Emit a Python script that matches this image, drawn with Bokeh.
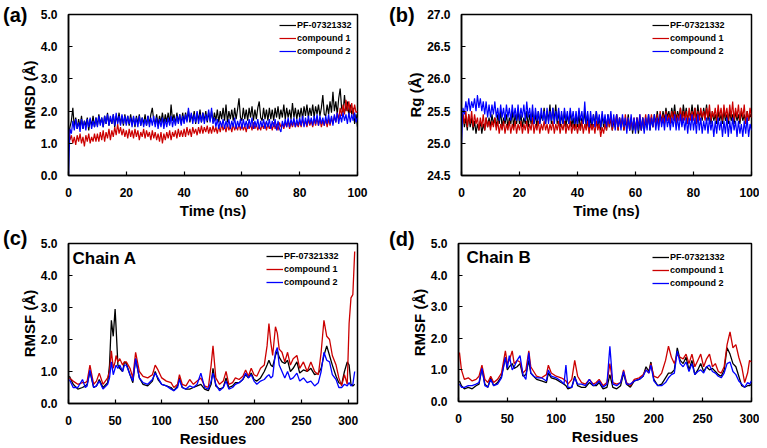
from bokeh.plotting import figure
from bokeh.layouts import column, row
from bokeh.models import (Range1d, FixedTicker, PrintfTickFormatter, Legend,
                          LegendItem, Label, Div)
from bokeh.embed import file_html
from bokeh.resources import INLINE

# ---------------- data ----------------
series_names = ["PF-07321332", "compound 1", "compound 2"]
series_colors = ["#000000", "#cc0000", "#0000ff"]

# sampling every 0.5 ns, 0 .. 100 ns
time_ns = [i / 2 for i in range(201)]

rmsd_pf = [1.2, 1.5, 1.7, 2.1, 1.5, 1.8, 1.45, 1.75, 1.5, 1.85, 1.45, 1.7, 1.55, 1.8, 1.4, 1.75, 1.55, 1.85, 1.5, 1.8,
           1.55, 1.9, 1.6, 1.8, 1.5, 1.85, 1.6, 1.95, 1.55, 1.8, 1.6, 1.9, 1.5, 1.85, 1.65, 1.95, 1.6, 1.85, 1.55, 1.9,
           1.6, 1.85, 1.55, 1.9, 1.6, 1.8, 1.5, 1.85, 1.6, 1.9, 1.55, 1.8, 1.6, 1.9, 1.55, 1.85, 1.6, 1.9, 2.1, 1.7,
           1.6, 1.9, 1.55, 1.85, 1.65, 1.95, 1.6, 1.9, 1.65, 1.95, 1.6, 2.2, 1.7, 1.9, 1.6, 1.95, 1.65, 1.9, 1.6, 1.95,
           1.65, 1.95, 1.7, 2.0, 1.65, 1.9, 1.7, 2.0, 1.6, 1.95, 1.7, 2.05, 1.65, 1.95, 1.7, 2.0, 1.65, 1.95, 1.7, 2.0,
           1.65, 1.95, 1.7, 2.05, 1.65, 2.0, 1.75, 2.1, 1.7, 2.2, 1.65, 2.0, 1.75, 2.05, 1.7, 2.1, 1.75, 2.05, 2.4, 1.8,
           1.7, 2.1, 1.75, 2.05, 1.7, 2.1, 1.8, 2.15, 1.7, 2.05, 1.75, 2.1, 2.3, 1.8, 1.7, 2.1, 1.75, 2.05, 1.7, 2.1,
           1.75, 2.05, 1.7, 2.1, 1.8, 2.15, 1.75, 2.05, 1.8, 2.2, 1.75, 2.1, 1.8, 2.05, 1.75, 2.25, 1.8, 2.1, 1.75, 2.05,
           1.8, 2.1, 1.75, 2.15, 1.85, 2.2, 1.8, 2.1, 1.85, 2.2, 1.8, 2.15, 1.9, 2.2, 1.85, 2.1, 2.5, 1.9, 1.85, 2.2,
           1.9, 2.3, 1.95, 2.6, 2.0, 2.3, 1.9, 2.4, 2.7, 2.1, 1.95, 2.5, 2.0, 2.3, 1.85, 2.2, 1.9, 2.1, 1.6, 1.9,
           1.5]
rmsd_c1 = [1.45, 1.1, 1.25, 1.0, 1.2, 0.95, 1.25, 1.05, 1.3, 1.0, 1.2, 0.9, 1.25, 1.05, 1.3, 1.0, 1.2, 1.05, 1.3, 1.05,
           1.3, 1.05, 1.35, 1.1, 1.4, 1.05, 1.35, 1.15, 1.45, 1.1, 1.4, 1.2, 1.5, 1.25, 1.6, 1.3, 1.5, 1.25, 1.45, 1.2,
           1.4, 1.15, 1.45, 1.2, 1.4, 1.15, 1.45, 1.2, 1.4, 1.1, 1.35, 1.2, 1.45, 1.15, 1.4, 1.2, 1.35, 1.1, 1.4, 1.15,
           1.35, 1.1, 1.3, 1.05, 1.35, 1.0, 1.3, 1.1, 1.35, 1.15, 1.4, 1.1, 1.35, 1.2, 1.4, 1.15, 1.45, 1.2, 1.4, 1.2,
           1.45, 1.2, 1.5, 1.25, 1.45, 1.2, 1.5, 1.3, 1.45, 1.25, 1.5, 1.3, 1.55, 1.3, 1.5, 1.35, 1.55, 1.3, 1.5, 1.3,
           1.55, 1.35, 1.5, 1.3, 1.55, 1.35, 1.6, 1.4, 1.55, 1.35, 1.6, 1.4, 1.55, 1.35, 1.6, 1.4, 1.55, 1.4, 1.6, 1.4,
           1.6, 1.4, 1.55, 1.35, 1.6, 1.45, 1.6, 1.4, 1.65, 1.45, 1.6, 1.4, 1.55, 1.4, 1.6, 1.45, 1.65, 1.4, 1.6, 1.45,
           1.6, 1.4, 1.65, 1.45, 1.6, 1.4, 1.65, 1.5, 1.6, 1.45, 1.65, 1.5, 1.7, 1.45, 1.65, 1.5, 1.7, 1.5, 1.65, 1.5,
           1.7, 1.5, 1.75, 1.55, 1.7, 1.5, 1.75, 1.55, 1.7, 1.5, 1.75, 1.55, 1.8, 1.55, 1.75, 1.5, 1.7, 1.55, 1.75, 1.5,
           1.75, 1.55, 1.8, 1.6, 1.85, 1.65, 1.95, 1.75, 2.1, 1.85, 2.2, 1.9, 2.35, 2.0, 2.3, 1.95, 2.25, 1.9, 2.2, 1.95,
           2.0]
rmsd_c2 = [0.0, 1.45, 1.3, 1.7, 1.4, 1.75, 1.45, 1.65, 1.35, 1.75, 1.45, 1.7, 1.4, 1.75, 1.5, 1.8, 1.45, 1.7, 1.5, 1.8,
           1.5, 1.85, 1.55, 1.8, 1.5, 1.85, 1.6, 1.9, 1.55, 1.85, 1.6, 1.9, 1.55, 1.95, 1.6, 1.85, 1.55, 1.9, 1.6, 1.85,
           1.55, 1.85, 1.6, 1.8, 1.5, 1.85, 1.55, 1.8, 1.5, 1.85, 1.55, 1.8, 1.5, 1.75, 1.55, 1.85, 1.5, 1.8, 1.55, 1.85,
           1.5, 1.8, 1.45, 1.75, 1.5, 1.8, 1.45, 1.75, 1.5, 1.8, 1.55, 1.85, 1.5, 1.8, 1.55, 1.85, 1.6, 1.9, 1.55, 1.85,
           1.6, 1.9, 1.65, 2.1, 1.7, 1.95, 1.6, 1.9, 1.65, 2.0, 1.6, 1.9, 1.65, 1.95, 1.6, 1.9, 1.7, 2.05, 1.65, 2.1,
           1.6, 1.8, 1.5, 1.75, 1.45, 1.7, 1.5, 1.75, 1.45, 1.7, 1.5, 1.75, 1.45, 1.7, 1.5, 1.8, 1.45, 1.7, 1.5, 1.75,
           1.45, 1.75, 1.5, 1.7, 1.45, 1.75, 1.5, 1.8, 1.45, 1.7, 1.5, 1.75, 1.45, 1.7, 1.5, 1.75, 1.45, 1.7, 1.5, 1.75,
           1.45, 1.7, 1.5, 1.75, 1.4, 1.7, 1.45, 1.35, 1.7, 1.5, 1.75, 1.5, 1.8, 1.5, 1.75, 1.55, 1.8, 1.5, 1.75, 1.55,
           1.8, 1.55, 1.85, 1.5, 1.8, 1.55, 1.85, 1.6, 1.8, 1.55, 1.85, 1.6, 1.9, 1.55, 1.85, 1.6, 1.8, 1.55, 1.85, 1.6,
           1.9, 1.6, 1.85, 1.55, 1.9, 1.65, 1.95, 1.6, 1.9, 1.65, 1.95, 1.7, 1.9, 1.6, 1.95, 1.65, 1.9, 1.7, 1.95, 1.65,
           1.8]

rg_pf = [25.3, 25.45, 25.25, 25.4, 25.2, 25.45, 25.25, 25.4, 25.2, 25.35, 25.15, 25.3, 25.2, 25.35, 25.15, 25.3, 25.2, 25.4, 25.25, 25.4,
         25.25, 25.45, 25.3, 25.4, 25.25, 25.45, 25.3, 25.5, 25.25, 25.4, 25.3, 25.45, 25.25, 25.4, 25.3, 25.5, 25.25, 25.45, 25.3, 25.5,
         25.3, 25.45, 25.25, 25.4, 25.3, 25.5, 25.25, 25.45, 25.3, 25.5, 25.3, 25.45, 25.25, 25.5, 25.3, 25.45, 25.35, 25.55, 25.3, 25.5,
         25.35, 25.6, 25.3, 25.55, 25.35, 25.6, 25.3, 25.5, 25.25, 25.45, 25.3, 25.5, 25.25, 25.45, 25.3, 25.5, 25.25, 25.4, 25.2, 25.45,
         25.25, 25.45, 25.2, 25.4, 25.3, 25.5, 25.25, 25.45, 25.2, 25.4, 25.25, 25.45, 25.3, 25.5, 25.25, 25.4, 25.2, 25.45, 25.25, 25.4,
         25.2, 25.45, 25.25, 25.4, 25.2, 25.35, 25.25, 25.45, 25.2, 25.4, 25.25, 25.4, 25.2, 25.35, 25.25, 25.45, 25.2, 25.4, 25.15, 25.35,
         25.2, 25.4, 25.15, 25.35, 25.2, 25.4, 25.2, 25.35, 25.25, 25.45, 25.2, 25.4, 25.25, 25.45, 25.3, 25.5, 25.3, 25.45, 25.35, 25.5,
         25.35, 25.55, 25.4, 25.5, 25.35, 25.55, 25.4, 25.6, 25.35, 25.5, 25.4, 25.55, 25.35, 25.6, 25.4, 25.55, 25.35, 25.5, 25.4, 25.6,
         25.4, 25.55, 25.35, 25.6, 25.4, 25.5, 25.35, 25.55, 25.4, 25.6, 25.35, 25.5, 25.3, 25.5, 25.35, 25.45, 25.3, 25.5, 25.35, 25.45,
         25.3, 25.5, 25.35, 25.45, 25.3, 25.5, 25.35, 25.45, 25.3, 25.5, 25.35, 25.45, 25.3, 25.5, 25.35, 25.45, 25.3, 25.5, 25.35, 25.45,
         25.4]
rg_c1 = [25.35, 25.45, 25.3, 25.5, 25.25, 25.45, 25.3, 25.5, 25.25, 25.45, 25.3, 25.4, 25.2, 25.4, 25.25, 25.45, 25.2, 25.4, 25.25, 25.35,
         25.2, 25.35, 25.25, 25.4, 25.2, 25.35, 25.15, 25.3, 25.2, 25.35, 25.15, 25.3, 25.2, 25.35, 25.15, 25.3, 25.2, 25.35, 25.15, 25.3,
         25.2, 25.35, 25.15, 25.3, 25.2, 25.35, 25.15, 25.3, 25.2, 25.4, 25.15, 25.3, 25.2, 25.35, 25.15, 25.3, 25.2, 25.35, 25.2, 25.3,
         25.15, 25.3, 25.2, 25.35, 25.15, 25.3, 25.2, 25.35, 25.15, 25.3, 25.2, 25.35, 25.15, 25.3, 25.2, 25.35, 25.15, 25.3, 25.2, 25.3,
         25.15, 25.3, 25.2, 25.35, 25.15, 25.3, 25.2, 25.35, 25.15, 25.3, 25.2, 25.3, 25.15, 25.35, 25.2, 25.3, 25.1, 25.25, 25.15, 25.3,
         25.2, 25.4, 25.25, 25.45, 25.2, 25.4, 25.25, 25.45, 25.2, 25.4, 25.25, 25.4, 25.2, 25.45, 25.25, 25.4, 25.2, 25.35, 25.25, 25.4,
         25.2, 25.4, 25.25, 25.45, 25.2, 25.4, 25.25, 25.45, 25.25, 25.4, 25.3, 25.45, 25.25, 25.4, 25.3, 25.45, 25.25, 25.5, 25.3, 25.45,
         25.3, 25.5, 25.35, 25.45, 25.3, 25.5, 25.35, 25.5, 25.3, 25.45, 25.35, 25.55, 25.3, 25.5, 25.35, 25.5, 25.3, 25.55, 25.35, 25.5,
         25.35, 25.55, 25.3, 25.5, 25.35, 25.55, 25.4, 25.5, 25.35, 25.55, 25.4, 25.6, 25.35, 25.5, 25.4, 25.55, 25.35, 25.6, 25.4, 25.55,
         25.35, 25.6, 25.4, 25.55, 25.35, 25.6, 25.4, 25.65, 25.35, 25.55, 25.4, 25.6, 25.35, 25.55, 25.4, 25.6, 25.3, 25.5, 25.35, 25.55,
         25.4]
rg_c2 = [25.0, 25.55, 25.45, 25.65, 25.5, 25.7, 25.5, 25.65, 25.55, 25.7, 25.5, 25.75, 25.55, 25.7, 25.5, 25.65, 25.45, 25.65, 25.4, 25.6,
         25.4, 25.6, 25.45, 25.65, 25.4, 25.55, 25.35, 25.6, 25.4, 25.55, 25.35, 25.6, 25.4, 25.55, 25.35, 25.6, 25.4, 25.55, 25.35, 25.6,
         25.35, 25.55, 25.4, 25.6, 25.35, 25.65, 25.4, 25.55, 25.35, 25.6, 25.3, 25.55, 25.35, 25.5, 25.3, 25.55, 25.35, 25.5, 25.3, 25.55,
         25.3, 25.5, 25.35, 25.55, 25.3, 25.5, 25.35, 25.55, 25.3, 25.5, 25.3, 25.55, 25.35, 25.5, 25.3, 25.55, 25.35, 25.5, 25.3, 25.5,
         25.3, 25.55, 25.35, 25.5, 25.3, 25.65, 25.3, 25.5, 25.25, 25.5, 25.3, 25.45, 25.25, 25.5, 25.3, 25.45, 25.25, 25.5, 25.3, 25.45,
         25.25, 25.45, 25.3, 25.5, 25.25, 25.45, 25.2, 25.45, 25.25, 25.4, 25.2, 25.45, 25.25, 25.4, 25.15, 25.4, 25.2, 25.45, 25.2, 25.4,
         25.15, 25.4, 25.2, 25.45, 25.2, 25.4, 25.15, 25.4, 25.2, 25.45, 25.2, 25.4, 25.25, 25.45, 25.2, 25.4, 25.2, 25.45, 25.25, 25.4,
         25.2, 25.45, 25.25, 25.4, 25.2, 25.4, 25.25, 25.45, 25.2, 25.4, 25.2, 25.45, 25.25, 25.4, 25.2, 25.4, 25.15, 25.4, 25.2, 25.45,
         25.2, 25.4, 25.15, 25.45, 25.2, 25.4, 25.15, 25.35, 25.2, 25.4, 25.15, 25.4, 25.2, 25.35, 25.1, 25.35, 25.15, 25.4, 25.2, 25.35,
         25.1, 25.35, 25.15, 25.4, 25.1, 25.35, 25.15, 25.4, 25.2, 25.35, 25.1, 25.35, 25.15, 25.3, 25.1, 25.35, 25.15, 25.4, 25.1, 25.3,
         25.2]

res_a = [1, 5, 10, 15, 18, 20, 23, 27, 30, 33,
         37, 42, 44, 46, 48, 50, 51, 53, 55, 58,
         60, 62, 66, 69, 72, 76, 80, 85, 90, 93,
         96, 100, 105, 110, 113, 117, 119, 122, 126, 130,
         134, 138, 142, 146, 150, 153, 155, 158, 162, 166,
         169, 172, 176, 179, 183, 187, 190, 193, 196, 199,
         202, 206, 210, 213, 215, 217, 219, 222, 224, 226,
         229, 232, 235, 238, 241, 245, 248, 252, 256, 260,
         264, 268, 271, 274, 277, 280, 283, 287, 290, 293,
         296, 299, 301, 303, 305, 307]
rmsf_a_pf = [0.85, 0.6, 0.45, 0.5, 0.55, 0.6, 1.0, 0.5, 0.55, 0.75,
             0.5, 0.65, 1.2, 2.6, 2.1, 2.95, 2.4, 1.2, 1.1, 1.0,
             1.3, 1.25, 0.9, 0.65, 1.4, 0.8, 0.6, 0.55, 0.7, 1.0,
             0.75, 0.6, 0.55, 0.5, 0.4, 0.55, 0.8, 0.5, 0.45, 0.45,
             0.5, 0.55, 0.6, 0.45, 0.4, 0.6, 1.1, 0.55, 0.45, 0.5,
             0.8, 0.5, 0.55, 0.65, 0.65, 0.75, 0.9, 0.8, 0.95, 0.75,
             0.7, 0.8, 1.0, 1.2, 1.35, 1.2, 1.15, 1.5, 1.65, 1.45,
             1.3, 1.25, 1.35, 1.0, 1.1, 1.3, 0.95, 1.05, 1.0, 1.1,
             0.9, 0.95, 1.1, 1.5, 1.8, 1.5, 1.2, 0.85, 0.65, 0.6,
             1.0, 1.3, 1.2, 0.6, 0.55, 0.6]
rmsf_a_c1 = [0.8, 0.7, 0.6, 0.65, 0.65, 0.7, 1.2, 0.6, 0.7, 0.95,
             0.6, 0.8, 1.0, 1.65, 1.1, 1.3, 1.5, 1.3, 1.4, 1.2,
             1.3, 1.3, 1.1, 0.8, 1.6, 1.0, 0.85, 0.8, 0.9, 1.2,
             1.05, 0.8, 0.7, 0.65, 0.5, 0.6, 0.9, 0.6, 0.55, 0.75,
             0.6, 0.7, 0.8, 0.55, 0.5, 1.2, 1.8, 0.8, 0.6, 0.7,
             1.0, 0.6, 0.65, 0.8, 0.75, 0.85, 1.05, 0.85, 1.1, 0.9,
             0.85, 1.1, 1.2, 1.8, 2.5, 1.9, 1.5, 2.4, 2.2, 1.7,
             1.6, 1.3, 1.6, 1.2, 1.4, 1.5, 1.1, 1.3, 1.0, 1.3,
             1.0, 0.9, 1.6, 2.6, 2.1, 2.0, 1.5, 1.2, 0.8, 0.55,
             0.9, 0.6, 2.5, 3.3, 3.4, 4.75]
rmsf_a_c2 = [0.75, 0.5, 0.5, 0.75, 0.5, 0.55, 1.05, 0.5, 0.55, 0.7,
             0.45, 0.6, 0.8, 1.3, 0.9, 1.1, 1.2, 1.1, 1.2, 1.0,
             1.2, 1.2, 0.9, 0.7, 1.4, 0.8, 0.65, 0.6, 0.75, 0.95,
             0.8, 0.6, 0.55, 0.45, 0.4, 0.5, 0.75, 0.5, 0.45, 0.55,
             0.5, 0.6, 0.95, 0.5, 0.45, 0.7, 0.95, 0.6, 0.4, 0.5,
             0.7, 0.45, 0.5, 0.6, 0.65, 0.75, 0.95, 0.8, 0.9, 0.7,
             0.6, 0.7, 0.75, 0.85, 0.9, 0.8, 0.85, 1.6, 1.75, 1.2,
             1.0, 0.8, 1.0, 0.75, 0.8, 0.95, 0.7, 0.8, 0.65, 0.7,
             0.55, 0.65, 1.0, 1.6, 1.35, 1.3, 0.9, 0.75, 0.5, 0.5,
             0.6, 0.55, 0.65, 0.55, 0.6, 1.0]

res_b = [1, 3, 6, 10, 14, 18, 21, 24, 27, 30,
         33, 36, 40, 44, 48, 50, 52, 55, 57, 60,
         63, 66, 69, 72, 74, 77, 80, 85, 90, 92,
         95, 100, 105, 108, 110, 112, 116, 119, 122, 126,
         130, 134, 138, 141, 144, 148, 152, 155, 158, 162,
         166, 169, 172, 176, 180, 185, 189, 192, 195, 197,
         200, 204, 208, 212, 215, 218, 221, 224, 227, 230,
         233, 236, 239, 242, 245, 248, 251, 254, 257, 260,
         263, 266, 269, 272, 275, 278, 281, 284, 287, 290,
         293, 296, 298, 300]
rmsf_b_pf = [0.65, 0.5, 0.4, 0.45, 0.4, 0.5, 0.55, 1.05, 0.55, 0.45,
             0.75, 0.5, 0.6, 0.8, 1.4, 1.0, 1.1, 1.2, 1.05, 1.1,
             1.2, 0.8, 0.85, 1.3, 0.9, 0.8, 0.7, 0.65, 0.6, 0.9,
             0.75, 0.7, 0.6, 0.55, 0.5, 0.4, 0.45, 0.8, 0.5, 0.45,
             0.45, 0.6, 0.5, 0.5, 0.6, 0.4, 0.45, 0.85, 0.45, 0.4,
             0.5, 0.9, 0.55, 0.45, 0.65, 0.7, 0.8, 1.1, 0.95, 1.25,
             0.7, 0.5, 0.55, 0.75, 0.9, 0.9, 1.0, 1.7, 1.3, 1.2,
             1.4, 1.0, 1.3, 0.85, 1.0, 1.2, 0.95, 1.1, 1.0, 1.05,
             0.95, 0.85, 0.8, 1.0, 1.7, 1.5, 1.2, 1.1, 0.8, 0.5,
             0.45, 0.5, 0.5, 0.55]
rmsf_b_c1 = [1.55, 1.0, 0.7, 0.75, 0.65, 0.7, 0.8, 1.15, 0.7, 0.6,
             0.8, 0.6, 0.7, 0.9, 1.6, 1.2, 1.3, 1.6, 1.2, 1.3,
             1.25, 0.9, 1.0, 1.6, 1.1, 0.95, 0.8, 0.75, 0.85, 1.15,
             0.9, 0.8, 0.75, 0.7, 0.65, 0.55, 0.7, 1.3, 0.8, 0.6,
             0.55, 0.7, 0.55, 0.6, 0.7, 0.5, 0.6, 1.2, 0.6, 0.55,
             0.6, 1.0, 0.6, 0.5, 0.7, 0.75, 0.85, 1.0, 0.9, 1.2,
             0.8, 0.75, 0.9, 1.3, 1.75, 1.4, 1.2, 1.5, 1.4, 1.35,
             1.5, 1.2, 1.5, 1.1, 1.3, 1.5, 1.1, 1.35, 1.5, 1.1,
             1.2, 0.95, 0.9, 1.1, 1.8, 2.2, 1.7, 1.8, 1.4, 1.1,
             0.6, 0.9, 1.3, 1.25]
rmsf_b_c2 = [0.55, 0.45, 0.45, 0.5, 0.5, 0.55, 0.6, 1.05, 0.5, 0.45,
             0.7, 0.5, 0.55, 0.75, 1.4, 1.05, 1.45, 1.0, 1.1, 1.3,
             1.45, 0.85, 0.7, 1.55, 0.9, 0.8, 0.75, 0.75, 0.65, 1.0,
             0.8, 0.75, 0.65, 0.55, 1.15, 0.45, 0.45, 0.75, 0.55, 0.55,
             0.5, 0.7, 0.5, 0.55, 0.65, 0.45, 0.55, 1.75, 0.55, 0.5,
             0.6, 0.95, 0.55, 0.55, 0.65, 0.7, 0.8, 1.0, 0.9, 1.15,
             0.65, 0.5, 0.5, 0.6, 0.75, 0.85, 0.9, 1.6, 1.2, 1.1,
             1.25, 0.95, 1.2, 0.85, 0.95, 1.0, 0.9, 1.1, 1.15, 0.95,
             0.9, 0.8, 0.75, 0.9, 1.2, 1.25, 0.95, 0.85, 0.65, 0.55,
             0.45, 0.6, 0.55, 0.65]

rmsd_ticks = [0, 1, 2, 3, 4, 5]
rg_ticks = [24.5, 25.0, 25.5, 26.0, 26.5, 27.0]
time_ticks = [0, 20, 40, 60, 80, 100]
res_ticks = [0, 50, 100, 150, 200, 250, 300]
panel_tags = ["(a)", "(b)", "(c)", "(d)"]

FONT = "Liberation Sans"


def make_panel(fw, fh, bl, br, bt, bb, xr, yr, xt, yt, xlabel, ylabel):
    p = figure(frame_width=fw, frame_height=fh, min_border_left=bl,
               min_border_right=br, min_border_top=bt, min_border_bottom=bb,
               x_range=Range1d(*xr), y_range=Range1d(*yr),
               output_backend="svg", toolbar_location=None)
    p.grid.visible = False
    p.outline_line_color = "black"
    p.outline_line_width = 1.5
    p.outline_line_alpha = 1
    p.background_fill_color = "white"
    p.border_fill_color = "white"
    for ax in (p.xaxis[0], p.yaxis[0]):
        ax.axis_line_color = "black"
        ax.axis_line_width = 1.5
        ax.major_tick_in = 4
        ax.major_tick_out = 0
        ax.major_tick_line_width = 1.2
        ax.minor_tick_line_color = None
        ax.major_label_text_font = FONT
        ax.major_label_text_font_style = "bold"
        ax.major_label_text_font_size = "12px"
        ax.major_label_text_color = "black"
        ax.axis_label_text_font = FONT
        ax.axis_label_text_font_style = "bold"
        ax.axis_label_text_font_size = "15px"
        ax.axis_label_text_color = "black"
    p.xaxis[0].ticker = FixedTicker(ticks=xt)
    p.yaxis[0].ticker = FixedTicker(ticks=yt)
    p.yaxis[0].formatter = PrintfTickFormatter(format="%.1f")
    p.xaxis[0].major_label_standoff = 12
    p.yaxis[0].major_label_standoff = 11
    p.xaxis[0].axis_label_standoff = 2
    p.yaxis[0].axis_label_standoff = 0
    p.xaxis[0].axis_label = xlabel
    p.yaxis[0].axis_label = ylabel
    return p


def add_lines(p, x, ys, lw, loc):
    items = []
    for name, color, y in zip(series_names, series_colors, ys):
        r = p.line(x, y, line_color=color, line_width=lw)
        items.append(LegendItem(label=name, renderers=[r]))
    leg = Legend(items=items, location=loc, border_line_alpha=0,
                 background_fill_alpha=0, padding=5, margin=0, spacing=3,
                 glyph_width=17, glyph_height=10, label_height=10,
                 label_standoff=1, label_text_font=FONT,
                 label_text_font_style="bold", label_text_font_size="9px",
                 label_text_color="black")
    p.add_layout(leg)
    return leg


def add_text(p, x, y, txt, size):
    p.add_layout(Label(x=x, y=y, text=txt, text_font=FONT,
                       text_font_style="bold", text_font_size=size,
                       text_color="black", text_align="left",
                       text_baseline="middle"))


def make_tag(txt, left, top):
    # panel letter, positioned over the page's top-left region of each panel
    return Div(text=txt, width=34, height=24,
               styles={"position": "absolute", "left": f"{left}px",
                       "top": f"{top}px", "z-index": "10",
                       "font-family": FONT, "font-weight": "bold",
                       "font-size": "20px", "line-height": "24px",
                       "color": "black", "margin": "0", "padding": "0"})


pa = make_panel(289, 161, 68, 27, 13, 50, (0, 100), (0, 5), time_ticks,
                rmsd_ticks, "Time (ns)", "RMSD (Å)")
add_lines(pa, time_ns, [rmsd_pf, rmsd_c1, rmsd_c2], 1.2, (206, 114))

pb = make_panel(290, 161, 77, 8, 14, 49, (0, 100), (24.5, 27.0), time_ticks,
                rg_ticks, "Time (ns)", "Rg (Å)")
add_lines(pb, time_ns, [rg_pf, rg_c1, rg_c2], 1.2, (186, 114))

pc = make_panel(289, 160, 68, 27, 16, 47, (0, 310), (0, 5), res_ticks,
                rmsd_ticks, "Residues", "RMSF (Å)")
add_lines(pc, res_a, [rmsf_a_pf, rmsf_a_c1, rmsf_a_c2], 1.3, (193, 111))
add_text(pc, 4.3, 4.53, "Chain A", "17px")

pd = make_panel(293, 158, 74, 8, 19, 46, (0, 300), (0, 5), res_ticks,
                rmsd_ticks, "Residues", "RMSF (Å)")
add_lines(pd, res_b, [rmsf_b_pf, rmsf_b_c1, rmsf_b_c2], 1.3, (189, 108))
add_text(pd, 8.2, 4.56, "Chain B", "17px")

tags = [make_tag(panel_tags[0], 3, 3), make_tag(panel_tags[1], 389, 3),
        make_tag(panel_tags[2], 3, 226), make_tag(panel_tags[3], 389, 227)]

layout = column(row(pa, pb), row(pc, pd), *tags)
open("out.html", "w").write(file_html(layout, INLINE))
